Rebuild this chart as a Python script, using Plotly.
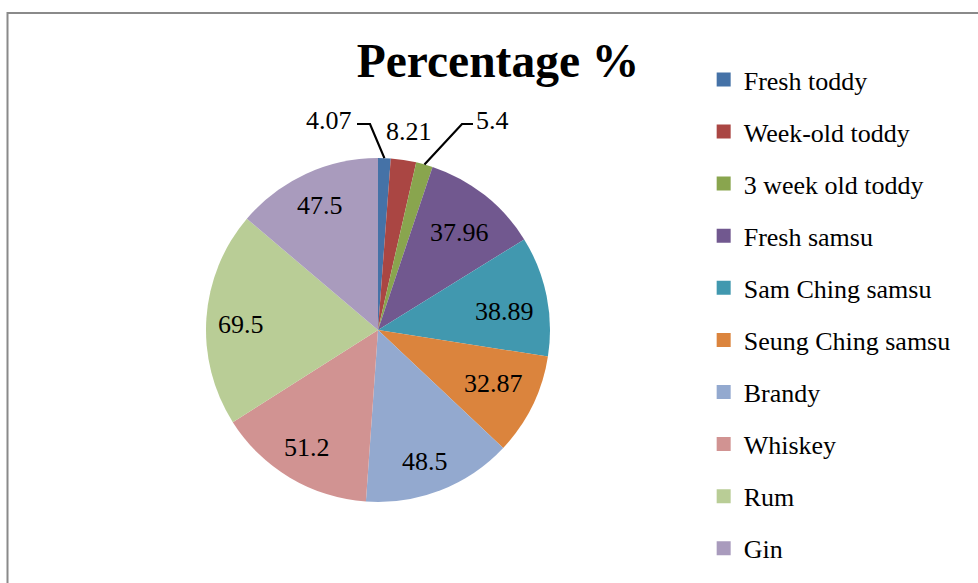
import math
import plotly.graph_objects as go

categories = ["Fresh toddy", "Week-old toddy", "3 week old toddy", "Fresh samsu",
              "Sam Ching samsu", "Seung Ching samsu", "Brandy", "Whiskey", "Rum", "Gin"]
percentages = [4.07, 8.21, 5.4, 37.96, 38.89, 32.87, 48.5, 51.2, 69.5, 47.5]
colors = ["#4572A7", "#AA4643", "#89A54E", "#71588F", "#4198AF",
          "#DB843D", "#93A9CF", "#D19392", "#B9CD96", "#A99BBD"]
title_text = "Percentage %"

FONT = "Liberation Serif, Times New Roman, serif"
W, H = 978, 583
FS = 26

# pie geometry (pixels -> paper)
CX, CY, R = 378, 330, 172
dom_x = [(CX - R) / W, (CX + R) / W]
dom_y = [1 - (CY + R) / H, 1 - (CY - R) / H]

fig = go.Figure()
fig.add_trace(go.Pie(
    labels=categories,
    values=percentages,
    sort=False,
    direction="clockwise",
    rotation=0,
    marker=dict(colors=colors, line=dict(width=0)),
    textinfo="none",
    showlegend=False,
    hoverinfo="label+value",
    domain=dict(x=dom_x, y=dom_y),
))

# slice mid-angles (for leader lines to the slice edge)
total = sum(percentages)
cum = 0.0
mid_angles = []
for v in percentages:
    mid_angles.append((cum + v / 2) / total * 2 * math.pi)
    cum += v

def edge_px(i):
    a = mid_angles[i]
    return CX + R * math.sin(a), CY - R * math.cos(a)

def px2paper(x, y):
    return x / W, 1 - y / H

# data-label placement (pixel centres) and leader-line styling, per slice index
label_style = {
    0: dict(pos=(329, 121), elbow=(370, 124), end=(357, 124)),
    1: dict(pos=(409, 132)),
    2: dict(pos=(492, 121), elbow=(462, 124), end=(473, 124)),
    3: dict(pos=(459, 232)),
    4: dict(pos=(504, 311)),
    5: dict(pos=(493, 383)),
    6: dict(pos=(425, 461)),
    7: dict(pos=(307, 447)),
    8: dict(pos=(241, 324)),
    9: dict(pos=(320, 206)),
}
annotations = []
shapes = [dict(type="rect", xref="paper", yref="paper",
               x0=7.5 / W, x1=1.02, y0=-0.02, y1=1 - 13 / H,
               line=dict(color="#8a8a8a", width=2),
               fillcolor="rgba(0,0,0,0)", layer="below")]
for i, st in label_style.items():
    x, y = px2paper(*st["pos"])
    annotations.append(dict(
        x=x, y=y, xref="paper", yref="paper", text=str(percentages[i]),
        showarrow=False, xanchor="center", yanchor="middle",
        font=dict(family=FONT, size=FS, color="black")))
    if "elbow" in st:
        p0 = px2paper(*edge_px(i))
        p1 = px2paper(*st["elbow"])
        p2 = px2paper(*st["end"])
        shapes.append(dict(
            type="path", xref="paper", yref="paper",
            path=f"M {p0[0]},{p0[1]} L {p1[0]},{p1[1]} L {p2[0]},{p2[1]}",
            line=dict(color="black", width=2.2), fillcolor="rgba(0,0,0,0)"))

# legend entries (one group per category so spacing matches the original)
for name, col in zip(categories, colors):
    fig.add_trace(go.Scatter(
        x=[None], y=[None], mode="markers", name=name, legendgroup=name,
        marker=dict(symbol="square", size=14, color=col),
    ))

fig.update_layout(
    width=W, height=H,
    margin=dict(l=0, r=0, t=0, b=0, autoexpand=False),
    paper_bgcolor="white", plot_bgcolor="white",
    font=dict(family=FONT, color="black"),
    title=dict(text="<b>" + title_text + "</b>", x=498 / W, xanchor="center",
               y=1 - 60 / H, yanchor="middle",
               font=dict(family=FONT, size=47.5, color="black")),
    xaxis=dict(visible=False), yaxis=dict(visible=False),
    legend=dict(x=0.7195, xanchor="left", y=1 - 56 / H, yanchor="top",
                font=dict(family=FONT, size=FS, color="black"),
                tracegroupgap=15.3, itemwidth=30, bgcolor="rgba(0,0,0,0)"),
    annotations=annotations,
    shapes=shapes,
)

fig.write_html("out.html",
               config={"displayModeBar": False},
               post_script="document.body.style.margin='0';"
                           "document.body.style.overflow='hidden';")
